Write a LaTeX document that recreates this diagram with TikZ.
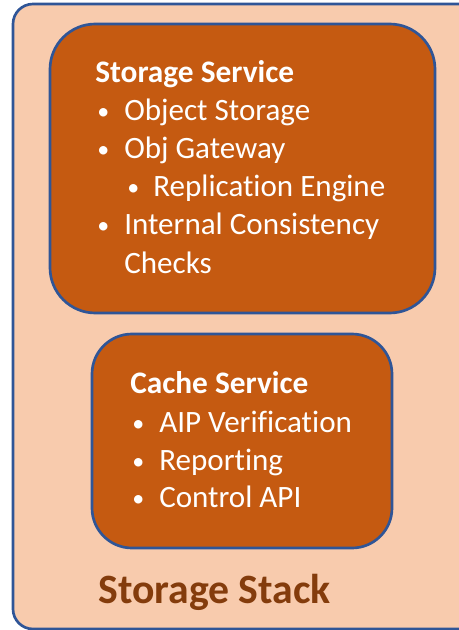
\documentclass[tikz,border=0pt]{standalone}
\usepackage{fontspec}
\setmainfont{Carlito}[Ligatures=NoCommon]
\usepackage{tikz}
\usetikzlibrary{shapes}
\definecolor{peach}{HTML}{F8CBAD}
\definecolor{rust}{HTML}{C55A11}
\definecolor{edgeblue}{HTML}{2F5597}
\definecolor{darkbrown}{HTML}{843C0C}

\begin{document}
\begin{tikzpicture}[x=0.75pt,y=-0.75pt]
      \tikzstyle{box}=[draw=edgeblue, line width=2pt, fill=rust]
      \tikzstyle{title}=[anchor=base west, inner sep=0pt, text=white, font=\fontsize{23.5}{26}\selectfont\bfseries]
      \tikzstyle{item}=[anchor=base west, inner sep=0pt, text=white, font=\fontsize{23.3}{26}\selectfont]
      \tikzstyle{dot}=[anchor=base west, inner sep=0pt, text=white, font=\fontsize{18}{20}\selectfont]

      \useasboundingbox (0,0) rectangle (459,630);
      \clip (0,0) rectangle (459,630);

      % outer stack
      \draw[draw=edgeblue, line width=2pt, fill=peach, rounded corners=15pt] (13,4) rectangle (490,629);
      \node[anchor=base west, inner sep=0pt, text=darkbrown, font=\fontsize{31.3}{34}\selectfont\bfseries] (stack) at (98,603) {Storage Stack};

      % storage service
      \draw[box, rounded corners=34pt] (50,24) rectangle (435,313);
      \node[title] (ss) at (95,83) {Storage Service};
      \node[dot] (b1) at (97,120) {•};
      \node[item] (s1) at (124,121) {Object Storage};
      \node[dot] (b2) at (97,158) {•};
      \node[item] (s2) at (124,159) {Obj Gateway};
      \node[dot] (b3) at (127,196) {•};
      \node[item] (s3) at (153,197) {Replication Engine};
      \node[dot] (b4) at (97,234) {•};
      \node[item] (s4) at (124,235) {Internal Consistency};
      \node[item] (s5) at (124,274) {Checks};

      % cache service
      \draw[box, rounded corners=30pt] (92,334) rectangle (392,548);
      \node[title] (cs) at (130,393) {Cache Service};
      \node[dot] (c0) at (132,431) {•};
      \node[item] (c1) at (159,432) {AIP Verification};
      \node[dot] (c2) at (132,469) {•};
      \node[item] (c3) at (159,470) {Reporting};
      \node[dot] (c4) at (132,506) {•};
      \node[item] (c5) at (159,507) {Control API};
    \end{tikzpicture}
\end{document}
